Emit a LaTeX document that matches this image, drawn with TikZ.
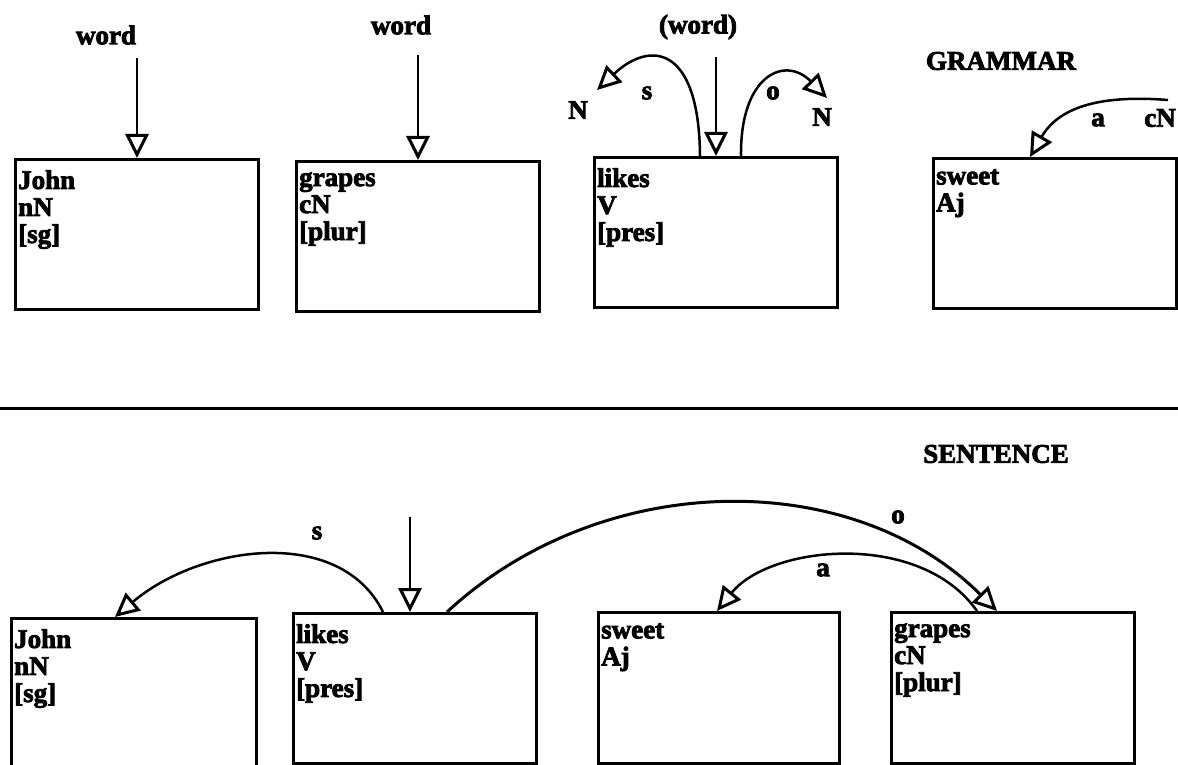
\documentclass[tikz,border=0pt]{standalone}
\usepackage{fontspec}
\setmainfont{Liberation Serif}[BoldFeatures={FakeBold=3}]
\usetikzlibrary{arrows.meta}

\begin{document}
\begin{tikzpicture}[x=1pt, y=-1pt,
    txt/.style={font=\fontsize{27}{27}\selectfont\bfseries, inner sep=0pt},
    box/.style={draw, line width=3pt, minimum width=243pt, minimum height=150pt, anchor=north west, inner sep=0pt},
    inbox/.style={txt, anchor=north west, align=left, inner xsep=4pt, inner ysep=12pt},
    link/.style={line width=2.5pt, -{Triangle[open, length=24pt, width=23pt, line width=3pt]}}]

    \useasboundingbox (0,0) rectangle (1178,765);

    % grammar
    \node[box, label={[inbox]north west:John\\nN\\{[sg]}}] (johnG) at (14,158) {};
    \node[box, label={[inbox]north west:grapes\\cN\\{[plur]}}] (grapesG) at (295,160) {};
    \node[box, label={[inbox]north west:likes\\V\\{[pres]}}] (likesG) at (593,156) {};
    \node[box, label={[inbox]north west:sweet\\Aj}] (sweetG) at (932,157) {};

    \node[txt] (wordJ) at (106,35) {word};
    \node[txt] (wordG) at (401,25) {word};
    \node[txt] (wordL) at (698,27) {(word)};
    \node[txt] (gram) at (1001,61) {GRAMMAR};
    \draw[link, shorten <=13pt] (wordJ.south -| johnG.north) -- (johnG.north);
    \draw[link, shorten <=20pt] (wordG.south -| grapesG.north) -- (grapesG.north);
    \draw[link, shorten <=18pt] (wordL.south -| likesG.north) -- (likesG.north);

    \node[txt] (nL) at (578,110) {N};
    \node[txt] (sG) at (647,93) {s};
    \node[txt] (oG) at (773,93) {o};
    \node[txt] (nR) at (822,117) {N};
    \node[txt] (aG) at (1098,120) {a};
    \node[txt] (cnG) at (1160,118) {cN};
    \coordinate (sTip) at (597,90);
    \coordinate (oTip) at (827,98);
    \coordinate (aStart) at (1168,100);
    \draw[link] ([xshift=107pt]likesG.north west) .. controls (699,45) and (650,40) .. (sTip);
    \draw[link] ([xshift=148pt]likesG.north west) .. controls (740,75) and (785,55) .. (oTip);
    \draw[link] (aStart) .. controls (1105,95) and (1060,105) .. ([xshift=98pt]sweetG.north west);

    % separator
    \draw[line width=3pt] (0,408) -- (1178,408);

    % sentence
    \node[txt] (sent) at (996,454) {SENTENCE};
    \node[box, minimum width=245pt, minimum height=148pt, label={[inbox]north west:John\\nN\\{[sg]}}] (johnS) at (10,617) {};
    \node[box, minimum width=243pt, minimum height=150pt, label={[inbox]north west:likes\\V\\{[pres]}}] (likesS) at (292,612) {};
    \node[box, minimum width=241pt, minimum height=151pt, label={[inbox]north west:sweet\\Aj}] (sweetS) at (597,611) {};
    \node[box, minimum width=243pt, minimum height=151pt, label={[inbox]north west:grapes\\cN\\{[plur]}}] (grapesS) at (890,611) {};

    \coordinate (topL) at (410,517);
    \draw[link] (topL) -- (topL |- likesS.north);

    \node[txt] (sS) at (317,533) {s};
    \node[txt] (oS) at (898,517) {o};
    \node[txt] (aS) at (823,570) {a};
    \draw[link] ([xshift=91pt]likesS.north west) .. controls (340,525) and (200,545) .. ([xshift=105pt]johnS.north west);
    \draw[link, line width=3pt] ([xshift=155pt]likesS.north west) .. controls (600,470) and (850,465) .. ([xshift=107pt]grapesS.north west);
    \draw[link] ([xshift=87pt]grapesS.north west) .. controls (920,530) and (770,545) .. ([xshift=120pt]sweetS.north west);
\end{tikzpicture}
\end{document}
